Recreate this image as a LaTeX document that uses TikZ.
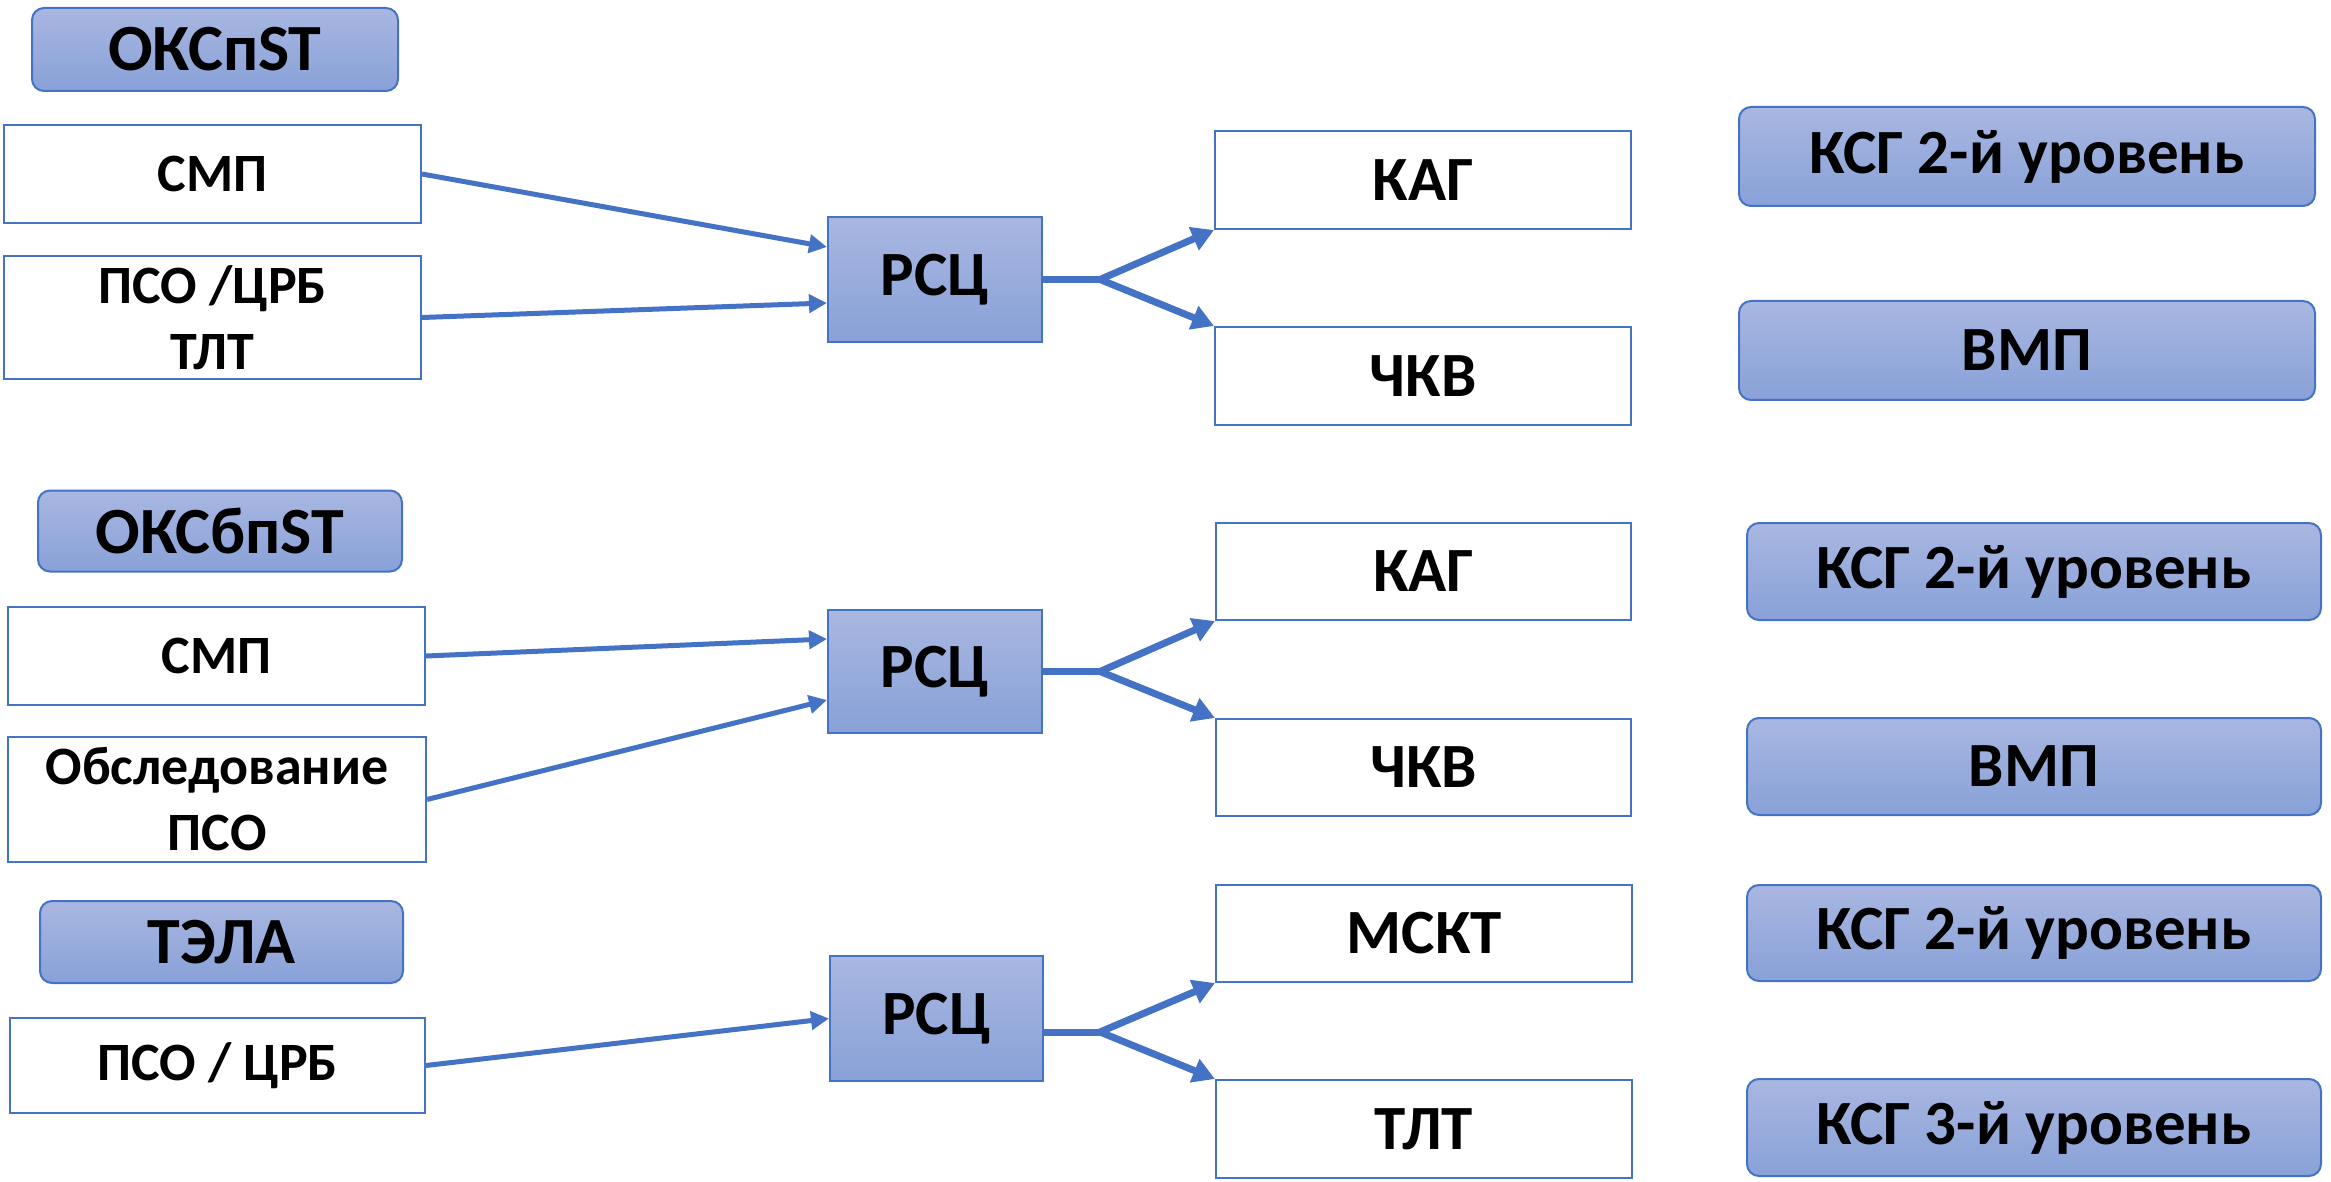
\documentclass[tikz,border=0pt]{standalone}
\usepackage{fontspec}
\setmainfont{Carlito}
\usetikzlibrary{arrows.meta}
\definecolor{lineblue}{RGB}{68,114,196}
\definecolor{gtop}{RGB}{169,183,225}
\definecolor{gbot}{RGB}{136,161,216}
\tikzset{
  x=0.5pt, y=-0.5pt,
  sz/.style 2 args={minimum width={#1*0.5pt}, minimum height={#2*0.5pt}},
  wbox/.style={draw=lineblue, line width=1pt, fill=white, inner sep=0pt, align=center, font=\bfseries\fontsize{27}{33}\selectfont},
  wbigbox/.style={wbox, font=\bfseries\fontsize{31.5}{36}\selectfont},
  gbox/.style={draw=lineblue, line width=1pt, top color=gtop, bottom color=gbot, inner sep=0pt, align=center, font=\bfseries\fontsize{31.5}{36}\selectfont},
  hbox/.style={gbox, rounded corners=6pt, font=\bfseries\fontsize{33}{38}\selectfont},
  rbox/.style={gbox, rounded corners=6pt},
  inarrow/.style={draw=lineblue, line width=2.5pt, -{Triangle[length=9pt,width=9pt]}},
  forkline/.style={draw=lineblue, line width=3.5pt},
  forkarrow/.style={draw=lineblue, line width=3.5pt, -{Triangle[length=11pt,width=12pt]}},
}
\begin{document}
\begin{tikzpicture}
\useasboundingbox (0,0) rectangle (2331,1182);
% Section 1
\node[hbox, sz={366}{83}] (h1) at (215,49.5) {ОКСпST};
\node[wbox, sz={417}{98}] (smp1) at (212.5,174) {СМП};
\node[wbox, sz={417}{123}] (pso1) at (212.5,317.5) {ПСО /ЦРБ\\ТЛТ};
\node[gbox, sz={214}{125}] (rsc1) at (935,279.5) {РСЦ};
\node[wbigbox, sz={416}{98}] (kag1) at (1423,180) {КАГ};
\node[wbigbox, sz={416}{98}] (chkv1) at (1423,376) {ЧКВ};
\node[rbox, sz={576}{99}] (ksg1) at (2027,156.5) {КСГ 2-й уровень};
\node[rbox, sz={576}{99}] (vmp1) at (2027,350.5) {ВМП};
\coordinate (j1) at (1100,279.5);
\draw[inarrow] (smp1.east) -- ([yshift=16.25pt]rsc1.west);
\draw[inarrow] (pso1.east) -- ([yshift=-11.75pt]rsc1.west);
\draw[forkline] (rsc1.east) -- (j1);
\draw[forkarrow] (j1) -- (kag1.south west);
\draw[forkarrow] (j1) -- (chkv1.north west);
% Section 2
\node[hbox, sz={364}{81}] (h2) at (220,531) {ОКСбпST};
\node[wbox, sz={417}{98}] (smp2) at (216.5,656) {СМП};
\node[wbox, sz={418}{125}] (obs2) at (217,799.5) {Обследование\\ПСО};
\node[gbox, sz={214}{123}] (rsc2) at (935,671.5) {РСЦ};
\node[wbigbox, sz={415}{97}] (kag2) at (1423.5,571.5) {КАГ};
\node[wbigbox, sz={415}{97}] (chkv2) at (1423.5,767.5) {ЧКВ};
\node[rbox, sz={574}{97}] (ksg2) at (2034,571.5) {КСГ 2-й уровень};
\node[rbox, sz={574}{97}] (vmp2) at (2034,766.5) {ВМП};
\coordinate (j2) at (1100,671.5);
\draw[inarrow] (smp2.east) -- ([yshift=16.25pt]rsc2.west);
\draw[inarrow] (obs2.east) -- ([yshift=-14.25pt]rsc2.west);
\draw[forkline] (rsc2.east) -- (j2);
\draw[forkarrow] (j2) -- (kag2.south west);
\draw[forkarrow] (j2) -- (chkv2.north west);
% Section 3
\node[hbox, sz={363}{82}] (h3) at (221.5,942) {ТЭЛА};
\node[wbox, sz={415}{95}] (pso3) at (217.5,1065.5) {ПСО / ЦРБ};
\node[gbox, sz={213}{125}] (rsc3) at (936.5,1018.5) {РСЦ};
\node[wbigbox, sz={416}{97}] (mskt) at (1424,933.5) {МСКТ};
\node[wbigbox, sz={416}{98}] (tlt) at (1424,1129) {ТЛТ};
\node[rbox, sz={574}{96}] (ksg3) at (2034,933) {КСГ 2-й уровень};
\node[rbox, sz={574}{97}] (ksg4) at (2034,1127.5) {КСГ 3-й уровень};
\coordinate (j3) at (1100,1032);
\draw[inarrow] (pso3.east) -- (rsc3.west);
\draw[forkline] ([yshift=-6.75pt]rsc3.east) -- (j3);
\draw[forkarrow] (j3) -- (mskt.south west);
\draw[forkarrow] (j3) -- (tlt.north west);
\end{tikzpicture}
\end{document}
